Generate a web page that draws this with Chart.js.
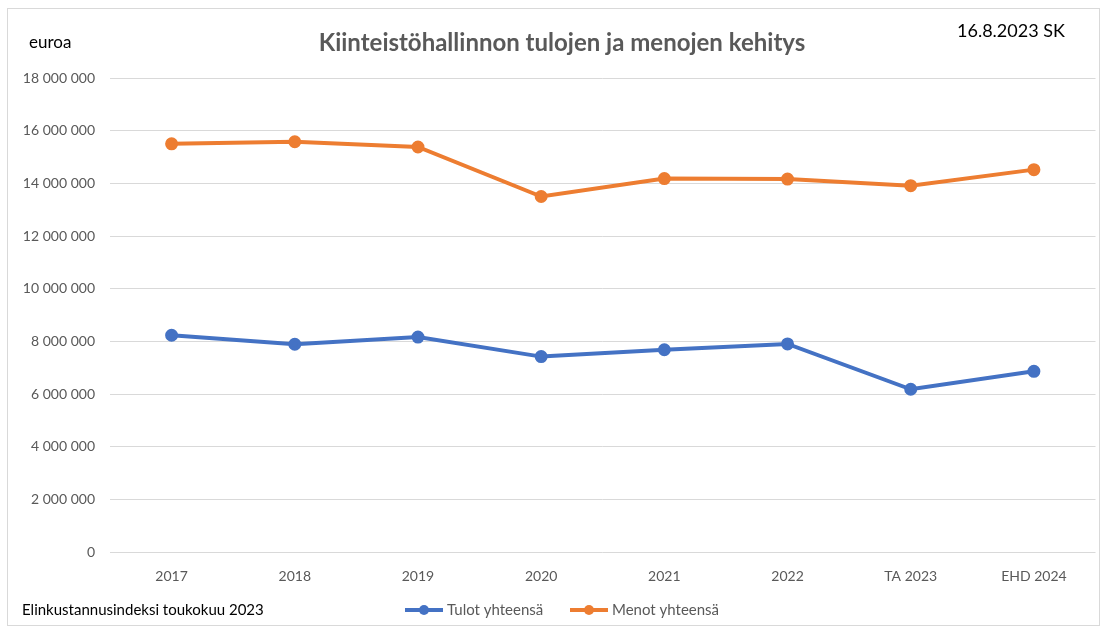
<!DOCTYPE html>
<html>
<head>
<meta charset="utf-8">
<script src="https://cdn.jsdelivr.net/npm/chart.js@4"></script>
<style>
	body { margin: 0; background: #fff; }
	.wrap { position: relative; width: 1104px; height: 630px; font-family: Lato, "Open Sans", sans-serif; }
	.frame { position: absolute; left: 7px; top: 8px; right: 4px; bottom: 4px; border: 1px solid #d9d9d9; }
	.txt { position: absolute; white-space: nowrap; }
	#title { left: 0; width: 1124px; top: 27px; text-align: center; font-size: 24px; font-weight: bold; color: #595959; }
	#unit { left: 29px; top: 31px; font-size: 17px; color: #000; }
	#date { left: 957px; top: 19px; font-size: 18px; color: #000; }
	#note { left: 22px; top: 600px; font-size: 15px; color: #000; }
	canvas { position: absolute; left: 0; top: 0; }
</style>
</head>
<body>
<div class="wrap">
	<div class="frame"></div>
	<canvas id="chart" width="1104" height="630"></canvas>
	<div class="txt" id="title">Kiinteistöhallinnon tulojen ja menojen kehitys</div>
	<div class="txt" id="unit">euroa</div>
	<div class="txt" id="date">16.8.2023 SK</div>
	<div class="txt" id="note">Elinkustannusindeksi toukokuu 2023</div>
</div>
<script>
const years = ["2017", "2018", "2019", "2020", "2021", "2022", "TA 2023", "EHD 2024"];
const tulot = [8230000, 7890000, 8160000, 7420000, 7680000, 7900000, 6180000, 6860000];
const menot = [15500000, 15580000, 15380000, 13500000, 14180000, 14160000, 13910000, 14520000];
const seriesNames = ["Tulot yhteensä", "Menot yhteensä"];

function fmt(v) {
	return String(v).replace(/\B(?=(\d{3})+(?!\d))/g, " ");
}

/* legend drawn by hand: line with a dot, like the office chart */
const lineLegend = {
	id: "lineLegend",
	afterDraw(chart) {
		const ctx = chart.ctx;
		const items = [{ x: 405 }, { x: 570 }];
		ctx.save();
		ctx.font = "15px Lato, 'Open Sans', sans-serif";
		ctx.textBaseline = "middle";
		chart.data.datasets.forEach((ds, i) => {
			const x = items[i].x;
			const y = 610;
			ctx.strokeStyle = ds.borderColor;
			ctx.lineWidth = 4;
			ctx.beginPath();
			ctx.moveTo(x, y);
			ctx.lineTo(x + 38, y);
			ctx.stroke();
			ctx.fillStyle = ds.borderColor;
			ctx.beginPath();
			ctx.arc(x + 19, y, 5, 0, Math.PI * 2);
			ctx.fill();
			ctx.fillStyle = "#595959";
			ctx.fillText(ds.label, x + 42, y);
		});
		ctx.restore();
	}
};

new Chart(document.getElementById("chart"), {
	type: "line",
	data: {
		labels: years,
		datasets: [
			{
				label: seriesNames[0],
				data: tulot,
				borderColor: "#4472C4",
				backgroundColor: "#4472C4",
				borderWidth: 4,
				pointRadius: 4.5,
				pointHoverRadius: 4.5,
				tension: 0
			},
			{
				label: seriesNames[1],
				data: menot,
				borderColor: "#ED7D31",
				backgroundColor: "#ED7D31",
				borderWidth: 4,
				pointRadius: 4.5,
				pointHoverRadius: 4.5,
				tension: 0
			}
		]
	},
	options: {
		responsive: false,
		animation: false,
		layout: { padding: { left: 10, right: 7, top: 78, bottom: 0 } },
		plugins: {
			legend: { display: false },
			tooltip: { enabled: false }
		},
		scales: {
			x: {
				offset: true,
				grid: { display: false },
				border: { display: false },
				ticks: { color: "#595959", font: { size: 14, family: "Lato" }, padding: 8, maxRotation: 0 },
				afterFit(scale) { scale.height = 78; }
			},
			y: {
				min: 0,
				max: 18000000,
				grid: { color: "#d9d9d9", lineWidth: 1, drawTicks: false },
				border: { display: false },
				ticks: {
					stepSize: 2000000,
					color: "#595959",
					font: { size: 14, family: "Lato" },
					padding: 15,
					callback: (v) => fmt(v)
				},
				afterFit(scale) { scale.width = 100; }
			}
		}
	},
	plugins: [lineLegend]
});
</script>
</body>
</html>
